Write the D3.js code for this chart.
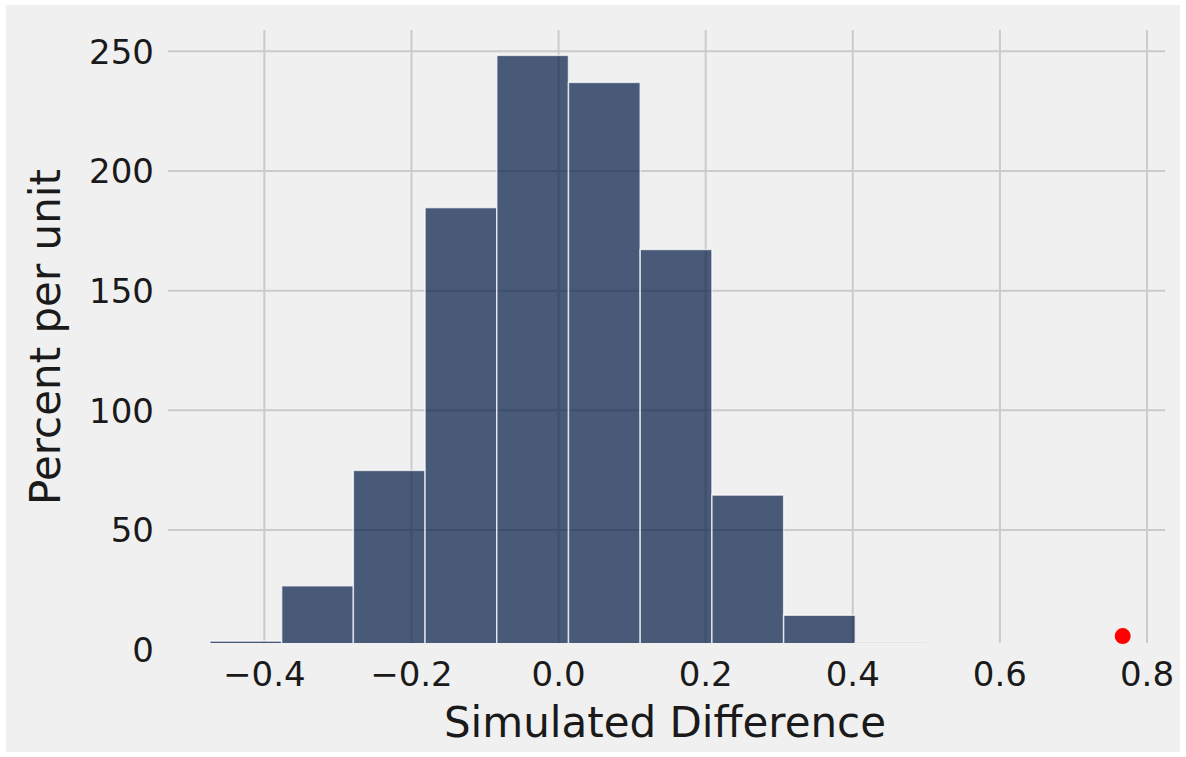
<!DOCTYPE html>
<html>
<head>
<meta charset="utf-8">
<script src="https://cdn.jsdelivr.net/npm/d3@7"></script>
<style>
  html, body { margin: 0; padding: 0; background: #ffffff; }
  svg { display: block; }
  text { font-family: "DejaVu Sans", sans-serif; fill: #1a1a1a; }
</style>
</head>
<body>
<svg id="chart" width="1186" height="757"></svg>
<script>
// Histogram of simulated differences (percent per unit)
const binEdges = [-0.474, -0.3765, -0.279, -0.1815, -0.084, 0.0135, 0.111, 0.2085, 0.306, 0.4035, 0.501];
const binHeights = [3.6, 26.7, 74.9, 184.7, 248.3, 237.0, 167.2, 64.6, 14.4, 3.0];
const observedDiff = [0.767];
const observedY = [5.7];
const xTicks = [-0.4, -0.2, 0.0, 0.2, 0.4, 0.6, 0.8];
const xTickLabels = ["−0.4", "−0.2", "0.0", "0.2", "0.4", "0.6", "0.8"];
const yTicks = [0, 50, 100, 150, 200, 250];
const yTickLabels = ["0", "50", "100", "150", "200", "250"];
const xLabel = "Simulated Difference";
const yLabel = "Percent per unit";

const svg = d3.select("#chart");
const W = 1186, H = 757;

// figure background
svg.append("rect").attr("x", 6).attr("y", 5).attr("width", W - 12).attr("height", H - 10)
  .attr("fill", "#f0f0f0");

const plot = { left: 168, right: 1165, top: 30, bottom: 643 };

const x = d3.scaleLinear().domain([-0.531, 0.8245]).range([plot.left, plot.right]);
// y-range chosen so 0 sits just under the plot's lower edge
const y = d3.scaleLinear().domain([0, 250]).range([649.7, 51.3]);

svg.append("defs").append("clipPath").attr("id", "plotclip")
  .append("rect").attr("x", plot.left).attr("y", plot.top)
  .attr("width", plot.right - plot.left).attr("height", plot.bottom - plot.top);

const grid = svg.append("g").attr("clip-path", "url(#plotclip)");
grid.selectAll("line.gx").data(xTicks).join("line")
  .attr("x1", d => x(d)).attr("x2", d => x(d))
  .attr("y1", plot.top).attr("y2", plot.bottom)
  .attr("stroke", "#cbcbcb").attr("stroke-width", 2);
grid.selectAll("line.gy").data(yTicks).join("line")
  .attr("x1", plot.left).attr("x2", plot.right)
  .attr("y1", d => y(d)).attr("y2", d => y(d))
  .attr("stroke", "#cbcbcb").attr("stroke-width", 2);

// bars
const bins = binHeights.map((h, i) => ({ x0: binEdges[i], x1: binEdges[i + 1], h }));
const bars = svg.append("g").attr("clip-path", "url(#plotclip)");
bars.selectAll("rect").data(bins).join("rect")
  .attr("x", d => x(d.x0))
  .attr("width", d => x(d.x1) - x(d.x0))
  .attr("y", d => y(d.h))
  .attr("height", d => y(0) - y(d.h))
  .attr("fill", "rgb(0,26,68)")
  .attr("fill-opacity", 0.7)
  .attr("stroke", "rgba(255,255,255,0.7)")
  .attr("stroke-width", 1.5);

// observed value
svg.append("g").selectAll("circle").data(observedDiff).join("circle")
  .attr("cx", d => x(d)).attr("cy", (d, i) => y(observedY[i]))
  .attr("r", 8).attr("fill", "#ff0000");

// tick labels
svg.append("g").selectAll("text").data(xTicks).join("text")
  .attr("x", d => x(d)).attr("y", 686)
  .attr("text-anchor", "middle").attr("font-size", 34)
  .text((d, i) => xTickLabels[i]);
svg.append("g").selectAll("text").data(yTicks).join("text")
  .attr("x", 154).attr("y", d => y(d)).attr("dy", "0.36em")
  .attr("text-anchor", "end").attr("font-size", 34)
  .text((d, i) => yTickLabels[i]);

// axis labels
svg.append("text").attr("x", 665).attr("y", 737)
  .attr("text-anchor", "middle").attr("font-size", 42).text(xLabel);
svg.append("text").attr("transform", "translate(60,337) rotate(-90)")
  .attr("text-anchor", "middle").attr("font-size", 42).text(yLabel);
</script>
</body>
</html>
